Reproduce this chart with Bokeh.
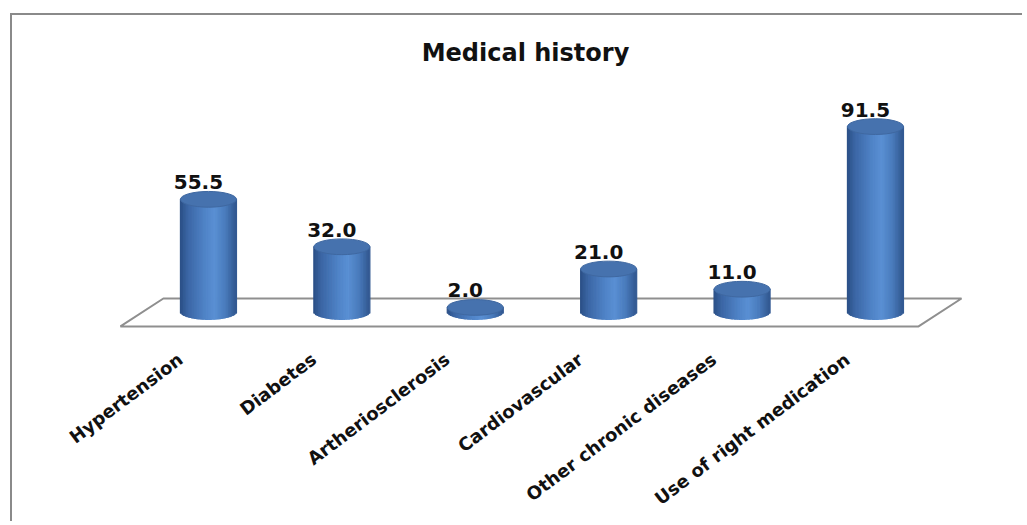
import numpy as np
from bokeh.plotting import figure
from bokeh.models import ColumnDataSource, Range1d, Label
from bokeh.core.properties import value
from bokeh.embed import file_html
from bokeh.resources import INLINE

# ---- data ----
categories = ["Hypertension", "Diabetes", "Artheriosclerosis", "Cardiovascular",
              "Other chronic diseases", "Use of right medication"]
values = [55.5, 32.0, 2.0, 21.0, 11.0, 91.5]
value_labels = ["%.1f" % v for v in values]
title_text = "Medical history"

FONT = "DejaVu Sans"
W, H = 1012, 508

p = figure(width=W, height=H, x_range=Range1d(-1.469, -1.469 + W / 133.4),
           y_range=Range1d(146.5 - H / 2.02, 146.5),
           output_backend="svg", toolbar_location=None, min_border=0)
p.axis.visible = False
p.grid.visible = False
p.outline_line_color = None
p.background_fill_color = "white"
p.border_fill_color = "white"
p.styles = {"border-left": "2px solid #8a8a8a", "border-top": "2px solid #8a8a8a",
            "margin-left": "10px", "margin-top": "13px"}

n = len(categories)
idx = np.arange(n)

# ---- floor (3D base plane) ----
front_y, back_y = -7.4, 6.4
depth_dx = 0.322
left_x, right_x = -0.66, (n - 1) + 0.323
p.patch([left_x, left_x + depth_dx, right_x + depth_dx, right_x],
        [front_y, back_y, back_y, front_y],
        fill_color="white", line_color="#8f8f8f", line_width=2)

# ---- cylinders built from vertical shaded strips ----
half_w = 0.21          # half width in x units
b = 3.9                # ellipse semi-axis in y units
N = 36
anchors_t = [0.0, 0.15, 0.45, 0.62, 0.82, 1.0]
anchors_c = [(0x2b, 0x4f, 0x85), (0x3c, 0x67, 0xa6), (0x50, 0x84, 0xc8),
             (0x5a, 0x90, 0xd4), (0x49, 0x7a, 0xbb), (0x32, 0x58, 0x90)]

def shade(t):
    r = np.interp(t, anchors_t, [c[0] for c in anchors_c])
    g = np.interp(t, anchors_t, [c[1] for c in anchors_c])
    bb = np.interp(t, anchors_t, [c[2] for c in anchors_c])
    return "#%02x%02x%02x" % (int(r), int(g), int(bb))

L, R, B, T, C = [], [], [], [], []
sw = 2 * half_w / N
for i, v in zip(idx, values):
    for k in range(N):
        t = (k + 0.5) / N
        dx = -half_w + (k + 0.5) * sw
        bottom = -b * np.sqrt(max(0.0, 1 - (dx / half_w) ** 2))
        L.append(i - half_w + k * sw)
        R.append(i - half_w + (k + 1) * sw)
        B.append(bottom)
        T.append(v)
        C.append(shade(t))
strips = ColumnDataSource(dict(left=L, right=R, bottom=B, top=T, color=C))
p.quad(left="left", right="right", bottom="bottom", top="top", source=strips,
       fill_color="color", line_color="color", line_width=1.2)

tops = ColumnDataSource(dict(x=idx, y=values))
p.ellipse(x="x", y="y", width=2 * half_w, height=2 * b, source=tops,
          fill_color="#4672ae", line_color="#3f68a1", line_width=1)

# ---- value labels ----
vsrc = ColumnDataSource(dict(x=idx, y=values, t=value_labels))
p.text(x="x", y="y", text="t", source=vsrc, x_offset=-10, y_offset=-17,
       text_align="center", text_baseline="alphabetic",
       text_font=value(FONT), text_font_style="bold", text_font_size="20px",
       text_color="#111111")

# ---- category labels ----
csrc = ColumnDataSource(dict(x=idx - 0.21, y=np.full(n, -22.5), t=categories))
p.text(x="x", y="y", text="t", source=csrc, angle=np.deg2rad(37),
       text_align="right", text_baseline="middle",
       text_font=value(FONT), text_font_style="bold", text_font_size="18px",
       text_color="#111111")

# ---- title ----
p.add_layout(Label(x=513, y=H - 37, x_units="screen", y_units="screen",
                   text=title_text, text_align="center", text_baseline="alphabetic",
                   text_font=FONT, text_font_style="bold", text_font_size="24px",
                   text_color="#111111"))

open("out.html", "w").write(file_html(p, INLINE))
